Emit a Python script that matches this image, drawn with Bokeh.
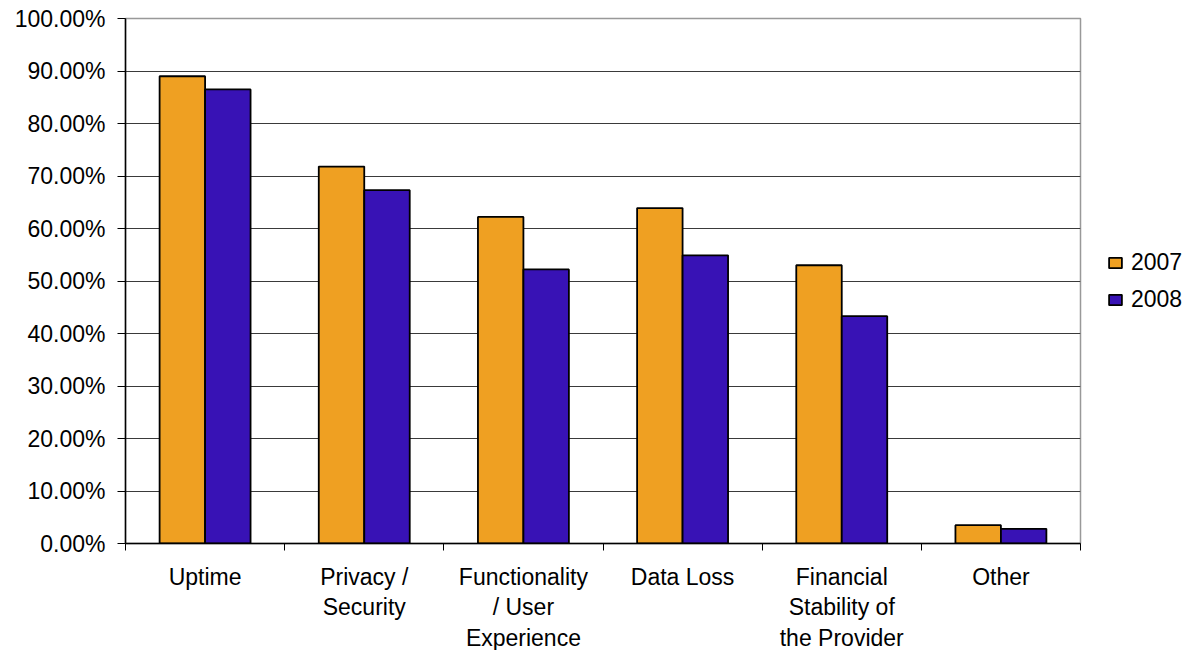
from bokeh.plotting import figure
from bokeh.models import (Range1d, FixedTicker, PrintfTickFormatter, Legend,
                          LegendItem, ColumnDataSource)
from bokeh.embed import file_html
from bokeh.resources import INLINE

categories = ["Uptime", "Privacy /\nSecurity", "Functionality\n/ User\nExperience",
              "Data Loss", "Financial\nStability of\nthe Provider", "Other"]
values_2007 = [89.0, 71.8, 62.2, 63.9, 53.0, 3.5]
values_2008 = [86.5, 67.3, 52.2, 54.9, 43.3, 2.8]
series_names = ["2007", "2008"]
y_ticks = [0, 10, 20, 30, 40, 50, 60, 70, 80, 90, 100]

ORANGE = "#EFA022"
PURPLE = "#3812B5"
FONT = "Liberation Sans"
FS = "23px"

n = len(categories)
centers = [i + 0.5 for i in range(n)]
bar_w = 1 / 3.5
src = ColumnDataSource(dict(
    x07=[c - bar_w / 2 for c in centers],
    x08=[c + bar_w / 2 for c in centers],
    v07=values_2007,
    v08=values_2008,
))

p = figure(frame_width=955, frame_height=525, output_backend="svg", toolbar_location=None,
           x_range=Range1d(0, n), y_range=Range1d(0, 100),
           min_border_left=125, min_border_top=18, min_border_right=0,
           min_border_bottom=100)
p.outline_line_color = "#999999"
p.outline_line_width = 1.5

r1 = p.vbar(x="x07", top="v07", width=bar_w, source=src, fill_color=ORANGE,
            line_color="black", line_width=1.8)
r2 = p.vbar(x="x08", top="v08", width=bar_w, source=src, fill_color=PURPLE,
            line_color="black", line_width=1.8)

# x axis
xa = p.xaxis[0]
xa.ticker = FixedTicker(ticks=centers, minor_ticks=list(range(n + 1)))
xa.major_label_overrides = {c: lab for c, lab in zip(centers, categories)}
xa.major_tick_out = 0
xa.major_tick_in = 0
xa.minor_tick_out = 7
xa.minor_tick_in = 0
xa.minor_tick_line_color = "black"
xa.axis_line_color = "black"
xa.axis_line_width = 1.5
xa.major_label_text_font = FONT
xa.major_label_text_font_size = FS
xa.major_label_text_color = "black"
xa.major_label_text_line_height = 1.18
xa.major_label_standoff = 13

# y axis
ya = p.yaxis[0]
ya.ticker = FixedTicker(ticks=y_ticks, minor_ticks=[])
ya.formatter = PrintfTickFormatter(format="%.2f%%")
ya.major_tick_out = 8
ya.major_tick_in = 0
ya.minor_tick_out = 0
ya.minor_tick_in = 0
ya.axis_line_color = "black"
ya.axis_line_width = 1.5
ya.major_tick_line_color = "black"
ya.major_label_text_font = FONT
ya.major_label_text_font_size = FS
ya.major_label_text_color = "black"
ya.major_label_standoff = 12

p.xgrid.grid_line_color = None
p.ygrid.grid_line_color = "#3a3a3a"
p.ygrid.grid_line_width = 1.2
p.ygrid.ticker = FixedTicker(ticks=y_ticks)

legend = Legend(items=[LegendItem(label=series_names[0], renderers=[r1]),
                       LegendItem(label=series_names[1], renderers=[r2])],
                location="center_left", orientation="vertical")
legend.border_line_color = None
legend.background_fill_alpha = 0
legend.label_text_font = FONT
legend.label_text_font_size = FS
legend.label_text_color = "black"
legend.glyph_width = 16
legend.glyph_height = 13
legend.label_standoff = 8
legend.spacing = 10
legend.margin = 27
legend.padding = 4
p.add_layout(legend, "right")

open("out.html", "w").write(file_html(p, INLINE))
